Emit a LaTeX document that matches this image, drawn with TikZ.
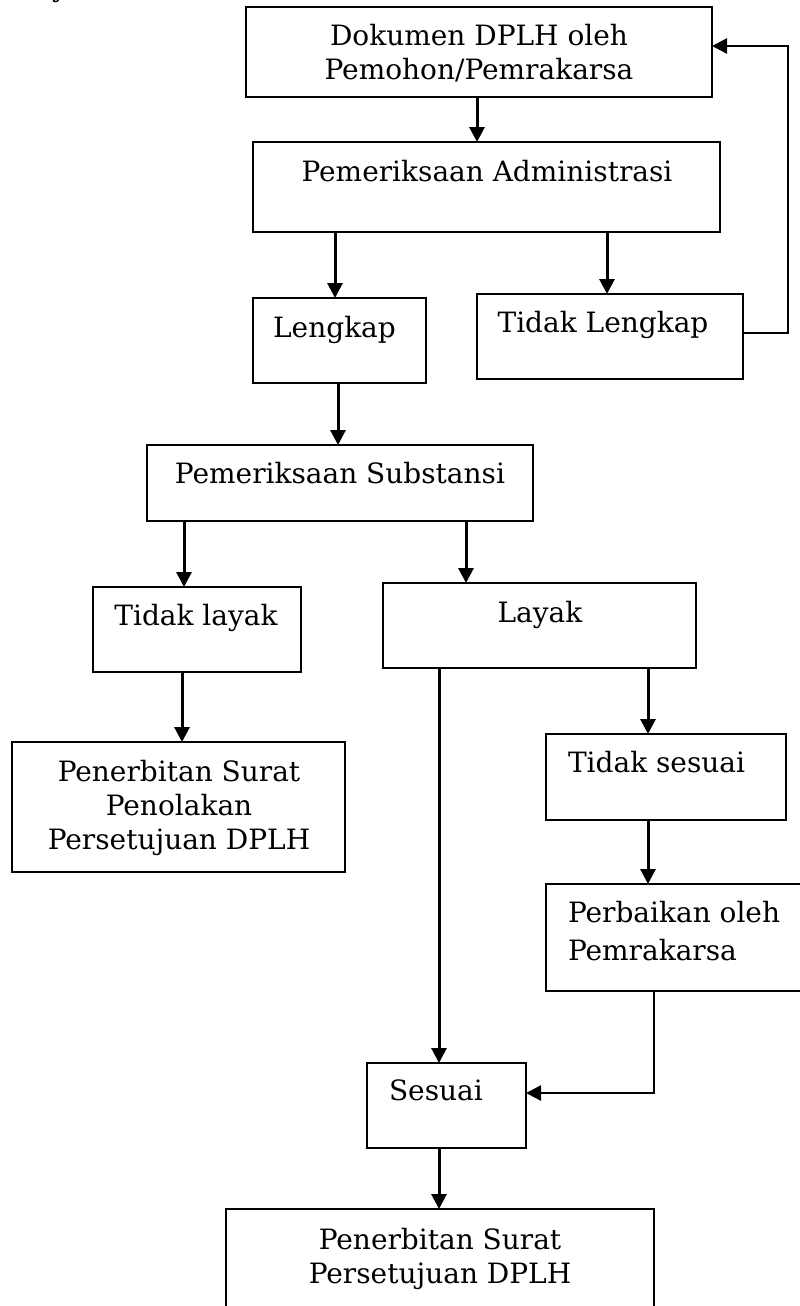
\documentclass[tikz,border=0pt]{standalone}
\usepackage{fontspec}
\setmainfont{DejaVu Serif}
\usetikzlibrary{arrows.meta}

\tikzset{
  box/.style={draw=black, line width=2pt, fill=none, inner sep=0pt, outer sep=0pt},
  txt/.style={inner sep=0pt, outer sep=0pt, anchor=base, font=\fontsize{28}{34}\selectfont},
  flow/.style={line width=3pt, -{Triangle[width=15pt,length=15pt]}},
  loopline/.style={line width=2.4pt, -{Triangle[width=15pt,length=15pt]}},
}

% a box given by its left, top, right and bottom edges
\newcommand{\flowbox}[5]{%
  \node[box, minimum width={(#4)-(#2)}, minimum height={(#5)-(#3)}]
    (#1) at ({((#2)+(#4))/2},{((#3)+(#5))/2}) {};}

\begin{document}
\begin{tikzpicture}[x=1pt, y=-1pt]
\useasboundingbox (0,0) rectangle (800,1306);

% boxes
\flowbox{dok}{246}{7}{712}{97}
\flowbox{adm}{253}{142}{720}{232}
\flowbox{lkp}{253}{298}{426}{383}
\flowbox{tlk}{477}{294}{743}{379}
\flowbox{sub}{147}{445}{533}{521}
\flowbox{tly}{93}{587}{301}{672}
\flowbox{lyk}{383}{583}{696}{668}
\flowbox{tol}{12}{742}{345}{872}
\flowbox{tss}{546}{734}{786}{820}
\flowbox{prb}{546}{884}{806}{991}
\flowbox{ses}{367}{1063}{526}{1148}
\flowbox{fin}{226}{1209}{654}{1316}

% labels (multi-line labels are placed by the baseline of their last line)
\node[txt] (yfrag) at (60,-3) {y};
\node[txt, align=center] (dokT) at (479,80) {Dokumen DPLH oleh\\Pemohon/Pemrakarsa};
\node[txt] (admT) at (487,181) {Pemeriksaan Administrasi};
\node[txt] (lkpT) at (334.5,337) {Lengkap};
\node[txt] (tlkT) at (603,332) {Tidak Lengkap};
\node[txt] (subT) at (340,483) {Pemeriksaan Substansi};
\node[txt] (tlyT) at (196,625) {Tidak layak};
\node[txt] (lykT) at (540,622) {Layak};
\node[txt, align=center] (tolT) at (179,849) {Penerbitan Surat\\Penolakan\\Persetujuan DPLH};
\node[txt, anchor=base west] (tssT) at (568,772) {Tidak sesuai};
\node[txt, anchor=base west, align=left, font=\fontsize{28}{38}\selectfont] (prbT) at (568,960) {Perbaikan oleh\\Pemrakarsa};
\node[txt, anchor=base west] (sesT) at (389,1100) {Sesuai};
\node[txt, align=center] (finT) at (440,1283) {Penerbitan Surat\\Persetujuan DPLH};

% columns and rows the connectors run along
\coordinate (c477) at (477,0);
\coordinate (c335) at (335,0);
\coordinate (c607) at (607,0);
\coordinate (c338) at (338,0);
\coordinate (c184) at (184,0);
\coordinate (c466) at (466,0);
\coordinate (c182) at (182,0);
\coordinate (c439) at (439,0);
\coordinate (c648) at (648,0);
\coordinate (fbA) at (788,333);
\coordinate (fbB) at (788,46);
\coordinate (rtA) at (654,1093);

% connectors
\draw[flow] (dok.south -| c477) -- (adm.north -| c477);
\draw[flow] (adm.south -| c335) -- (lkp.north -| c335);
\draw[flow] (adm.south -| c607) -- (tlk.north -| c607);
\draw[loopline] (fbA -| tlk.east) -- (fbA) -- (fbB) -- (fbB -| dok.east);
\draw[flow] (lkp.south -| c338) -- (sub.north -| c338);
\draw[flow] (sub.south -| c184) -- (tly.north -| c184);
\draw[flow] (sub.south -| c466) -- (lyk.north -| c466);
\draw[flow] (tly.south -| c182) -- (tol.north -| c182);
\draw[flow] (lyk.south -| c439) -- (ses.north -| c439);
\draw[flow] (lyk.south -| c648) -- (tss.north -| c648);
\draw[flow] (tss.south -| c648) -- (prb.north -| c648);
\draw[loopline] (prb.south -| rtA) -- (rtA) -- (rtA -| ses.east);
\draw[flow] (ses.south -| c439) -- (fin.north -| c439);
\end{tikzpicture}
\end{document}
